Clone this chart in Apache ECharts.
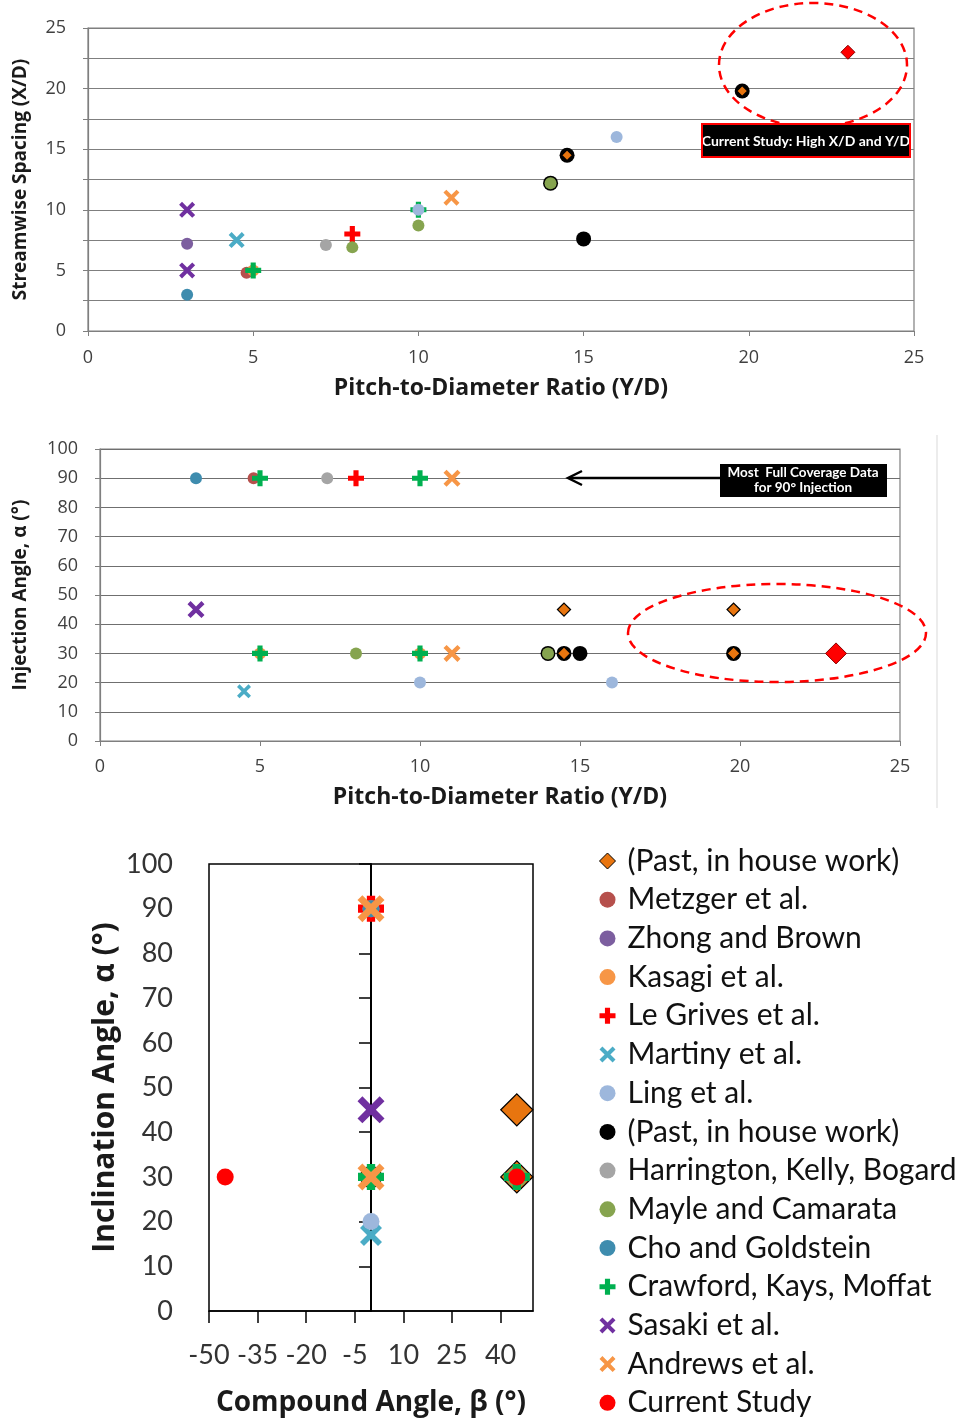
<!DOCTYPE html>
<html><head><meta charset="utf-8">
<script src="https://cdn.jsdelivr.net/npm/echarts@6/dist/echarts.min.js"></script>
<style>html,body{margin:0;padding:0;background:#fff}#c{width:964px;height:1427px}</style>
</head><body><div id="c"></div>
<script>
// ---------- Legend / series ----------
const seriesKeys = ['pastDiamond','metzger','zhong','kasagi','legrives','martiny','ling','pastCircle','harrington','mayle','cho','crawford','sasaki','andrews','current'];
const legendLabels = ['(Past, in house work)','Metzger et al.','Zhong and Brown','Kasagi et al.','Le Grives et al.','Martiny et al.','Ling et al.','(Past, in house work)','Harrington, Kelly, Bogard','Mayle and Camarata','Cho and Goldstein','Crawford, Kays, Moffat','Sasaki et al.','Andrews et al.','Current Study'];

// ---------- Chart 1: [Y/D, X/D] ----------
const topPastDiamond = [[14.5,14.5],[19.8,19.8]];
const topMetzger = [[4.8,4.8]];
const topZhong = [[3,7.2]];
const topKasagi = [[5,5]];
const topLeGrives = [[8,8]];
const topMartiny = [[4.5,7.5]];
const topLing = [[10,10],[16,16]];
const topPastCircle = [[14,12.2],[14.5,14.5],[15,7.6],[19.8,19.8]];
const topHarrington = [[7.2,7.1]];
const topMayle = [[8,6.9],[10,8.7],[14,12.2]];
const topCho = [[3,3]];
const topCrawford = [[5,5],[10,10]];
const topSasaki = [[3,10],[3,5]];
const topAndrews = [[11,11]];
const topCurrent = [[23,23]];

// ---------- Chart 2: [Y/D, alpha] ----------
const midPastDiamond = [[14.5,45],[19.8,45],[14.5,30],[19.8,30]];
const midMetzger = [[4.8,90]];
const midZhong = [];
const midKasagi = [[5,30],[10,30]];
const midLeGrives = [[8,90]];
const midMartiny = [[4.5,17]];
const midLing = [[10,20],[16,20]];
const midPastCircle = [[14,30],[14.5,30],[15,30],[19.8,30]];
const midHarrington = [[7.1,90]];
const midMayle = [[8,30],[14,30]];
const midCho = [[3,90]];
const midCrawford = [[5,90],[10,90],[5,30],[10,30]];
const midSasaki = [[3,45]];
const midAndrews = [[11,90],[11,30]];
const midCurrent = [[23,30]];

// ---------- Chart 3: [beta, alpha] ----------
const botPastDiamond = [[45,45],[45,30]];
const botMetzger = [[0,90]];
const botZhong = [[0,90]];
const botKasagi = [[0,90],[0,30]];
const botLeGrives = [[0,90]];
const botMartiny = [[0,17]];
const botLing = [[0,20]];
const botPastCircle = [[0,30]];
const botHarrington = [[0,90]];
const botMayle = [[45,30]];
const botCho = [[0,90]];
const botCrawford = [[0,30],[45,30]];
const botSasaki = [[0,45]];
const botAndrews = [[0,90],[0,30]];
const botCurrent = [[-45,30],[45,30]];

const botXTicks = [-50,-35,-20,-5,10,25,40];

const topData = [topPastDiamond,topMetzger,topZhong,topKasagi,topLeGrives,topMartiny,topLing,topPastCircle,topHarrington,topMayle,topCho,topCrawford,topSasaki,topAndrews,topCurrent];
const midData = [midPastDiamond,midMetzger,midZhong,midKasagi,midLeGrives,midMartiny,midLing,midPastCircle,midHarrington,midMayle,midCho,midCrawford,midSasaki,midAndrews,midCurrent];
const botData = [botPastDiamond,botMetzger,botZhong,botKasagi,botLeGrives,botMartiny,botLing,botPastCircle,botHarrington,botMayle,botCho,botCrawford,botSasaki,botAndrews,botCurrent];

// ---------- Styles ----------
const PLUS = 'path://M3.4,0H6.6V3.4H10V6.6H6.6V10H3.4V6.6H0V3.4H3.4Z';
const XSYM = 'path://M0,1.8L1.8,0L5,3.2L8.2,0L10,1.8L6.8,5L10,8.2L8.2,10L5,6.8L1.8,10L0,8.2L3.2,5Z';
const STY = {
  pastDiamond:{sym:'diamond',kind:'diamond',color:'#E8750F',border:'#000',bw:1.3},
  metzger:{sym:'circle',kind:'circle',color:'#B6504C'},
  zhong:{sym:'circle',kind:'circle',color:'#7C5E9F'},
  kasagi:{sym:'circle',kind:'circle',color:'#F79646'},
  legrives:{sym:PLUS,kind:'plus',color:'#FF0000'},
  martiny:{sym:XSYM,kind:'xs',color:'#4BACC6'},
  ling:{sym:'circle',kind:'circle',color:'#9DB7DC',z:3},
  pastCircle:{sym:'circle',kind:'pastCircle',color:'#000',z:1},
  harrington:{sym:'circle',kind:'circle',color:'#A5A5A5'},
  mayle:{sym:'circle',kind:'mayle',color:'#86A44F'},
  cho:{sym:'circle',kind:'circle',color:'#3E8CAE'},
  crawford:{sym:PLUS,kind:'plus',color:'#00B050'},
  sasaki:{sym:XSYM,kind:'x',color:'#7030A0'},
  andrews:{sym:XSYM,kind:'x',color:'#F79646'},
  current:{sym:'circle',kind:'current',color:'#FF0000'}
};
const SIZES = [
  {circle:12,mayle:12,pastCircle:15,diamond:11,current:14,x:16,xs:16,plus:16},
  {circle:12,mayle:12,pastCircle:15,diamond:13,current:21,x:17,xs:14,plus:16},
  {circle:17,mayle:21,pastCircle:22,diamond:32,current:17,x:27,xs:22,plus:26}
];
const FONT = 'Lato';
const FONT2 = 'Open Sans';

const series = [];
[topData, midData, botData].forEach((set, gi) => {
  set.forEach((pts, i) => {
    const key = seriesKeys[i], s = STY[key];
    let sym = s.sym, border = s.border, bw = s.bw || 0;
    if (key === 'current' && gi < 2) { sym = 'diamond'; border = '#8a0000'; bw = 1; }
    series.push({
      type:'scatter', name:key, xAxisIndex:gi, yAxisIndex:gi,
      data:pts, symbol:sym, symbolSize:SIZES[gi][s.kind],
      z: s.z || 2,
      itemStyle:{color:s.color, borderColor:border || s.color, borderWidth:bw, opacity:1},
      emphasis:{disabled:true}, animation:false
    });
  });
});

const lblStyle = {fontFamily:FONT2, fontSize:18, color:'#404040'};
const nameStyle = (fs, f) => ({fontFamily:f || FONT2, fontWeight:'bold', fontSize:fs, color:'#1a1a1a'});
const gray = '#7f7f7f';

const option = {
  backgroundColor:'#fff',
  animation:false,
  grid:[
    {left:88, top:28, width:826, height:303, show:true, borderColor:gray, borderWidth:1.2},
    {left:100, top:449, width:800, height:292, show:true, borderColor:gray, borderWidth:1.2},
    {left:209, top:864, width:324, height:447, show:true, borderColor:'#000', borderWidth:1.5}
  ],
  xAxis:[
    {gridIndex:0, type:'value', min:0, max:25, interval:5,
     name:'Pitch-to-Diameter Ratio (Y/D)', nameLocation:'middle', nameGap:46, nameTextStyle:nameStyle(23),
     axisLine:{lineStyle:{color:gray,width:1.2}}, axisTick:{show:true,length:5,lineStyle:{color:gray}},
     axisLabel:Object.assign({margin:18}, lblStyle), splitLine:{show:false}},
    {gridIndex:1, type:'value', min:0, max:25, interval:5,
     name:'Pitch-to-Diameter Ratio (Y/D)', nameLocation:'middle', nameGap:45, nameTextStyle:nameStyle(23),
     axisLine:{lineStyle:{color:gray,width:1.2}}, axisTick:{show:true,length:5,lineStyle:{color:gray}},
     axisLabel:Object.assign({margin:17}, lblStyle), splitLine:{show:false}},
    {gridIndex:2, type:'value', min:-50, max:50,
     name:'Compound Angle, β (°)', nameLocation:'middle', nameGap:78, nameTextStyle:nameStyle(28),
     axisLine:{lineStyle:{color:'#000',width:1.5}},
     axisTick:{show:true,length:12,lineStyle:{color:'#000',width:1.5},customValues:botXTicks},
     axisLabel:{margin:31, fontFamily:FONT, fontSize:27, color:'#333', customValues:botXTicks},
     splitLine:{show:false}}
  ],
  yAxis:[
    {gridIndex:0, type:'value', min:0, max:25, interval:2.5,
     name:'Streamwise Spacing (X/D)', nameLocation:'middle', nameGap:58, nameTextStyle:nameStyle(19),
     axisLine:{lineStyle:{color:gray,width:1.2}}, axisTick:{show:true,length:5,lineStyle:{color:gray}},
     axisLabel:Object.assign({margin:22, formatter:v => (v % 5 === 0 ? String(v) : '')}, lblStyle),
     splitLine:{lineStyle:{color:gray,width:1.2}}},
    {gridIndex:1, type:'value', min:0, max:100, interval:10,
     name:'Injection Angle, α (°)', nameLocation:'middle', nameGap:70, nameTextStyle:nameStyle(19),
     axisLine:{lineStyle:{color:gray,width:1.2}}, axisTick:{show:true,length:5,lineStyle:{color:gray}},
     axisLabel:Object.assign({margin:22}, lblStyle),
     splitLine:{lineStyle:{color:'#6f6f6f',width:1.2}}},
    {gridIndex:2, type:'value', min:0, max:100, interval:10,
     name:'Inclination Angle, α (°)', nameLocation:'middle', nameGap:89, nameTextStyle:nameStyle(30),
     axisLine:{show:false, onZero:false}, axisTick:{show:false},
     axisLabel:{margin:36, fontFamily:FONT, fontSize:27, color:'#333'},
     splitLine:{show:false}},
    {gridIndex:2, type:'value', min:0, max:100, interval:10, position:'left',
     axisLine:{show:true, onZero:true, lineStyle:{color:'#000',width:2}},
     axisTick:{show:true,length:12,lineStyle:{color:'#000',width:1.5}},
     axisLabel:{show:false}, splitLine:{show:false}}
  ],
  legend:{
    orient:'vertical', left:599, top:846, padding:0, itemWidth:16, itemHeight:16, itemGap:8.7,
    selectedMode:false,
    data: seriesKeys.map(k => ({
      name:k,
      icon: k === 'pastDiamond' ? 'diamond' : (STY[k].sym),
      itemStyle: k === 'pastDiamond' ? {borderColor:'#000',borderWidth:1} : {borderWidth:0}
    })),
    formatter: n => legendLabels[seriesKeys.indexOf(n)],
    textStyle:{fontFamily:FONT, fontSize:30, color:'#111', lineHeight:30, padding:[0,0,0,7]}
  },
  graphic:[
    {type:'ellipse', shape:{cx:813, cy:65, rx:94, ry:62}, style:{fill:'none', stroke:'#FF0000', lineWidth:2.5, lineDash:[9,6]}, z:5},
    {type:'rect', shape:{x:702, y:124, width:208, height:33}, style:{fill:'#000'}, z:6},
    {type:'text', x:806, y:141, style:{text:'Current Study: High X/D and Y/D', fill:'#fff', font:'bold 14px Lato', textAlign:'center', textVerticalAlign:'middle'}, z:7},
    {type:'rect', shape:{x:702, y:124, width:208, height:33}, style:{fill:'none', stroke:'#FF0000', lineWidth:2}, z:8},
    {type:'ellipse', shape:{cx:777, cy:633, rx:149, ry:49}, style:{fill:'none', stroke:'#FF0000', lineWidth:2.5, lineDash:[9,6]}, z:5},
    {type:'line', shape:{x1:720, y1:478, x2:569, y2:478}, style:{stroke:'#000', lineWidth:2.5}, z:6},
    {type:'polyline', shape:{points:[[582,471],[568,478],[582,485]]}, style:{stroke:'#000', lineWidth:2.5, fill:'none'}, z:6},
    {type:'rect', shape:{x:720, y:464, width:167, height:33}, style:{fill:'#000'}, z:6},
    {type:'text', x:803, y:473, style:{text:'Most  Full Coverage Data', fill:'#fff', font:'bold 13.5px Lato', textAlign:'center', textVerticalAlign:'middle'}, z:7},
    {type:'text', x:803, y:488, style:{text:'for 90° Injection', fill:'#fff', font:'bold 13.5px Lato', textAlign:'center', textVerticalAlign:'middle'}, z:7},
    {type:'line', shape:{x1:937, y1:435, x2:937, y2:808}, style:{stroke:'#e6e6e6', lineWidth:1.5}, z:1}
  ],
  series: series
};
const chart = echarts.init(document.getElementById('c'), null, {renderer:'canvas'});
chart.setOption(option);
</script></body></html>
